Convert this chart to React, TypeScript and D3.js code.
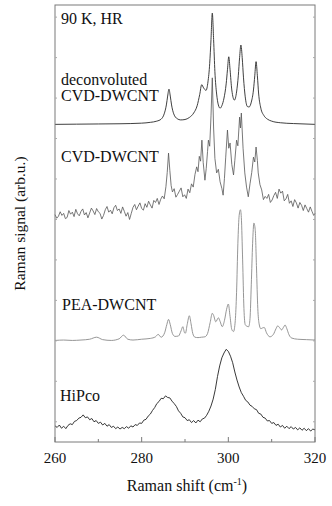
import React from "react";
import * as d3 from "d3";

// Raman shift (cm-1) vs signal (arb. u.), relative to each spectrum's own baseline
const deconvoluted: [number, number][] = [
  [260, 0], [265, 0.05], [270, 0.1], [275, 0.15], [280, 0.3], [282, 0.5], [283.5, 0.8],
  [284.5, 1.3], [285.2, 2.6], [285.7, 4.8], [286.0, 7.0], [286.3, 8.7], [286.6, 7.0],
  [286.9, 4.8], [287.4, 2.6], [288.2, 1.4], [289, 1.1], [290, 1.2], [291, 1.7], [292, 2.8],
  [292.8, 4.6], [293.4, 7.4], [293.85, 9.8], [294.3, 9.0], [294.85, 8.4], [295.3, 10.5],
  [295.7, 15], [296.0, 21], [296.3, 27.5], [296.6, 21], [296.9, 13], [297.3, 7.5],
  [297.7, 4.8], [298.1, 4.0], [298.5, 4.6], [299.0, 6.5], [299.5, 10], [299.8, 13.5],
  [300.1, 16.7], [300.4, 13.5], [300.8, 8.5], [301.4, 6.0], [301.9, 8.0], [302.3, 12],
  [302.6, 16.5], [302.9, 19.6], [303.2, 16.5], [303.5, 11.5], [303.9, 6.8], [304.4, 4.4],
  [304.8, 4.3], [305.3, 5.5], [305.8, 8.5], [306.1, 12], [306.4, 15.5], [306.7, 12],
  [307.0, 7.5], [307.5, 4.0], [308.2, 2.2], [309, 1.3], [310, 0.8], [312, 0.4], [315, 0.2],
  [320, 0],
];

const cvdDwcnt: [number, number][] = [
  [260.0, 0.6], [260.4, -0.3], [260.8, 0.2], [261.2, 1.3], [261.6, 0.4], [262.0, 0.9],
  [262.4, -0.4], [262.8, -0.1], [263.2, 1.6], [263.6, 0.7], [264.0, 1.2], [264.4, 0.1],
  [264.8, 1.9], [265.2, 0.8], [265.6, 0.3], [266.0, 1.4], [266.4, 2.0], [266.8, 0.5],
  [267.2, 1.1], [267.6, -0.2], [268.0, 1.0], [268.4, 2.2], [268.8, 1.5], [269.2, 0.6],
  [269.6, 2.1], [270.0, 1.3], [270.4, 0.9], [270.8, -0.5], [271.2, 0.4], [271.6, 1.8],
  [272.0, 2.6], [272.4, 1.2], [272.8, 1.7], [273.2, 0.8], [273.6, 2.3], [274.0, 2.9],
  [274.4, 1.6], [274.8, 2.0], [275.2, 0.9], [275.6, 2.5], [276.0, 1.4], [276.4, 0.2],
  [276.8, 1.1], [277.2, -0.6], [277.6, 0.9], [278.0, 2.4], [278.4, 3.1], [278.8, 1.8],
  [279.2, 2.7], [279.6, 3.5], [280.0, 2.1], [280.4, 1.7], [280.8, 3.3], [281.2, 2.4],
  [281.6, 3.9], [282.0, 3.0], [282.4, 2.2], [282.8, 4.1], [283.2, 3.6], [283.6, 4.6],
  [284.0, 3.1], [284.4, 4.4], [284.8, 5.2], [285.2, 4.5], [285.6, 7.5], [285.9, 11],
  [286.2, 15.8], [286.5, 11.5], [286.8, 7.8], [287.1, 6.2], [287.5, 7.0], [287.9, 4.9],
  [288.3, 5.6], [288.7, 6.4], [289.1, 7.2], [289.5, 5.0], [289.9, 5.5], [290.3, 4.6],
  [290.7, 6.9], [291.1, 6.0], [291.5, 8.2], [291.9, 7.4], [292.3, 10.5], [292.7, 12.4],
  [293.0, 11.2], [293.3, 15.0], [293.6, 13.8], [293.9, 19.0], [294.2, 13.5], [294.6, 9.1],
  [294.9, 12.0], [295.2, 16.2], [295.4, 19.0], [295.7, 17.5], [296.0, 25.0], [296.3, 34.4],
  [296.6, 22.0], [296.9, 14.5], [297.3, 10.9], [297.7, 11.8], [298.1, 8.7], [298.5, 7.1],
  [298.8, 5.4], [299.1, 9.5], [299.4, 14.8], [299.8, 21.5], [300.1, 17.0], [300.4, 18.3],
  [300.8, 13.0], [301.2, 10.4], [301.5, 14.0], [301.9, 19.0], [302.2, 17.6], [302.6, 24.7],
  [302.8, 22.0], [303.0, 25.7], [303.4, 17.0], [303.8, 10.9], [304.2, 7.4], [304.6, 5.0],
  [305.0, 8.2], [305.4, 11.0], [305.8, 14.8], [306.1, 13.6], [306.4, 17.3], [306.7, 14.0],
  [306.9, 10.9], [307.3, 8.0], [307.7, 6.7], [308.1, 4.3], [308.5, 5.1], [308.9, 4.6],
  [309.3, 5.6], [309.7, 3.6], [310.1, 4.2], [310.5, 5.3], [310.9, 6.1], [311.3, 4.6],
  [311.7, 6.9], [312.1, 5.9], [312.5, 6.4], [312.9, 4.0], [313.3, 4.5], [313.7, 5.6],
  [314.1, 3.4], [314.5, 4.0], [314.9, 2.6], [315.3, 4.3], [315.7, 3.5], [316.1, 2.2],
  [316.5, 3.6], [316.9, 2.9], [317.3, 1.6], [317.7, 3.0], [318.1, 2.1], [318.5, 1.2],
  [318.9, 2.5], [319.3, 1.4], [319.7, 0.4], [320.0, 0.9],
];

const peaDwcnt: [number, number][] = [
  [260, 0.1], [262, 0.2], [264, 0.1], [266, 0.2], [268, 0.4], [269.6, 0.9], [271, 0.3],
  [273, 0.1], [274.8, 0.5], [275.8, 1.4], [276.8, 0.4], [278, 0.2], [280, 0.4], [282, 0.6],
  [283.2, 1.0], [283.8, 1.6], [284.5, 0.9], [285.3, 2.0], [285.8, 4.0], [286.2, 5.3],
  [286.6, 4.0], [287.1, 1.8], [287.7, 1.1], [288.5, 1.2], [289.1, 2.5], [289.5, 3.5],
  [289.9, 2.0], [290.1, 1.9], [290.5, 4.0], [291.0, 6.2], [291.4, 4.2], [291.8, 1.8],
  [292.3, 0.9], [293, 0.8], [293.8, 0.9], [294.6, 1.0], [295.2, 1.8], [295.8, 4.5],
  [296.3, 6.8], [296.6, 6.3], [297.1, 4.7], [297.7, 5.7], [298.1, 4.8], [298.6, 3.5],
  [299.1, 5.0], [299.6, 7.8], [300.0, 9.1], [300.4, 6.0], [300.8, 2.8], [301.2, 2.3],
  [301.6, 5], [301.9, 12], [302.2, 24], [302.5, 31], [302.8, 32.4], [303.0, 30.5],
  [303.3, 20], [303.6, 8], [303.9, 4.0], [304.3, 3.6], [304.7, 3.5], [305.0, 5.5],
  [305.3, 14], [305.6, 24], [305.9, 29.1], [306.2, 27.5], [306.5, 18], [306.8, 8],
  [307.1, 4.2], [307.5, 3.0], [307.9, 3.2], [308.3, 3.3], [308.8, 2.0], [309.6, 1.0],
  [310.4, 1.6], [311.0, 3.0], [311.4, 3.7], [311.8, 3.3], [312.3, 2.7], [312.7, 3.3],
  [313.1, 3.9], [313.5, 3.0], [314.0, 1.5], [314.6, 0.7], [316, 0.4], [318, 0.3], [320, 0.2],
];

const hipco: [number, number][] = [
  [260.0, 1.0], [260.5, 0.6], [261.0, 1.2], [261.5, 0.4], [262.0, 0.9], [262.5, 0.3],
  [263.0, 1.1], [263.5, 1.5], [264.0, 1.3], [264.5, 2.1], [265.0, 2.3], [265.5, 2.9],
  [266.0, 3.1], [266.5, 3.7], [267.0, 3.0], [267.5, 3.2], [268.0, 2.5], [268.5, 2.8],
  [269.0, 2.0], [269.5, 2.3], [270.0, 1.6], [270.5, 1.9], [271.0, 1.2], [271.5, 1.6],
  [272.0, 0.9], [272.5, 1.3], [273.0, 0.6], [273.5, 0.9], [274.0, 0.3], [274.5, 0.7],
  [275.0, 0.2], [275.5, 0.6], [276.0, 0.3], [276.5, 0.8], [277.0, 0.4], [277.5, 1.0],
  [278.0, 0.7], [278.5, 1.3], [279.0, 1.1], [279.5, 1.7], [280.0, 1.6], [280.5, 2.4],
  [281.0, 2.6], [281.5, 3.4], [282.0, 3.9], [282.5, 4.8], [283.0, 5.5], [283.5, 6.5],
  [284.0, 7.0], [284.5, 7.8], [285.0, 7.7], [285.5, 8.4], [286.0, 8.0], [286.5, 7.9],
  [287.0, 7.1], [287.5, 6.5], [288.0, 5.8], [288.5, 4.7], [289.0, 4.1], [289.5, 3.2],
  [290.0, 3.0], [290.5, 2.3], [291.0, 2.5], [291.5, 1.8], [292.0, 2.3], [292.5, 1.7],
  [293.0, 2.4], [293.5, 2.0], [294.0, 2.7], [294.5, 2.9], [295.0, 3.6], [295.5, 4.6],
  [296.0, 5.9], [296.5, 7.6], [297.0, 10.0], [297.5, 13.2], [298.0, 15.8], [298.5, 17.8],
  [299.0, 19.0], [299.5, 19.9], [300.0, 19.4], [300.5, 18.2], [301.0, 16.6], [301.5, 14.3],
  [302.0, 12.3], [302.5, 10.6], [303.0, 9.2], [303.5, 8.3], [304.0, 7.3], [304.5, 6.9],
  [305.0, 6.1], [305.5, 5.8], [306.0, 5.2], [306.5, 5.0], [307.0, 4.1], [307.5, 3.9],
  [308.0, 3.1], [308.5, 2.9], [309.0, 2.2], [309.5, 2.3], [310.0, 1.6], [310.5, 1.8],
  [311.0, 1.1], [311.5, 1.4], [312.0, 0.7], [312.5, 1.1], [313.0, 0.4], [313.5, 0.9],
  [314.0, 0.3], [314.5, 0.8], [315.0, 0.2], [315.5, 0.6], [316.0, 0.0], [316.5, 0.5],
  [317.0, -0.1], [317.5, 0.4], [318.0, -0.2], [318.5, 0.3], [319.0, -0.3], [319.5, 0.2],
  [320.0, 0.0],
];

const seriesNames = ["deconvoluted", "CVD-DWCNT", "PEA-DWCNT", "HiPco"];
const seriesOffsets = [73.5, 50.6, 20.0, -2.0];
const seriesColors = ["#2a2a2a", "#555", "#8a8a8a", "#222"];
const xTicks = [260, 280, 300, 320];
const xMinorTicks = [270, 290, 310];
const yTicks = [0, 10, 20, 30, 40, 50, 60, 70, 80, 90, 100];

const W = 332;
const H = 506;
const margin = { top: 5, right: 17, bottom: 64, left: 55 };
const font = "'Liberation Serif', 'Times New Roman', serif";

const App = () => {
  const x = d3.scaleLinear().domain([260, 320]).range([margin.left, W - margin.right]);
  const y = d3.scaleLinear().domain([-5, 103]).range([H - margin.bottom, margin.top]);

  const allSeries = [deconvoluted, cvdDwcnt, peaDwcnt, hipco];
  const curves = [d3.curveMonotoneX, d3.curveLinear, d3.curveMonotoneX, d3.curveLinear];
  const widths = [0.9, 0.8, 0.9, 0.9];

  const paths = allSeries.map((s, i) =>
    d3
      .line<[number, number]>()
      .x((d) => x(d[0]))
      .y((d) => y(d[1] + seriesOffsets[i]))
      .curve(curves[i])(s)
  );

  const x0 = margin.left;
  const x1 = W - margin.right;
  const y0 = H - margin.bottom;
  const y1 = margin.top;

  return (
    <svg
      width={W}
      height={H}
      style={{ position: "absolute", left: 0, top: 0, background: "#fff" }}
      fontFamily={font}
    >
      {/* spectra, bottom one first */}
      {paths
        .map((p, i) => (
          <path key={seriesNames[i]} d={p || ""} fill="none" stroke={seriesColors[i]} strokeWidth={widths[i]} />
        ))
        .reverse()}

      {/* frame */}
      <rect x={x0} y={y1} width={x1 - x0} height={y0 - y1} fill="none" stroke="#7a7a7a" strokeWidth={1} />

      {xTicks.map((t) => (
        <line key={"xt" + t} x1={x(t)} x2={x(t)} y1={y0} y2={y0 - 5} stroke="#7a7a7a" />
      ))}
      {xMinorTicks.map((t) => (
        <line key={"xm" + t} x1={x(t)} x2={x(t)} y1={y0} y2={y0 - 3} stroke="#7a7a7a" />
      ))}
      {yTicks.map((t) => (
        <g key={"yt" + t}>
          <line x1={x0} x2={x0 + 2} y1={y(t)} y2={y(t)} stroke="#aaa" />
          <line x1={x1} x2={x1 - 2} y1={y(t)} y2={y(t)} stroke="#aaa" />
        </g>
      ))}

      {xTicks.map((t) => (
        <text key={"xl" + t} x={x(t)} y={463} textAnchor="middle" fontSize={15} fill="#111">
          {t}
        </text>
      ))}

      <text x={187} y={491} textAnchor="middle" fontSize={16} fill="#111">
        Raman shift (cm
        <tspan dy={-6} fontSize={10}>-1</tspan>
        <tspan dy={6}>)</tspan>
      </text>
      <text
        transform={`translate(25,${(y0 + y1) / 2}) rotate(-90)`}
        textAnchor="middle"
        fontSize={15.5}
        fill="#111"
      >
        Raman signal (arb.u.)
      </text>

      <text x={61} y={24} fontSize={16} fill="#111">90 K, HR</text>
      <text x={61} y={85} fontSize={16} fill="#111">deconvoluted</text>
      <text x={61} y={101} fontSize={16} fill="#111">CVD-DWCNT</text>
      <text x={61} y={162} fontSize={16} fill="#111">CVD-DWCNT</text>
      <text x={62} y={310} fontSize={16} fill="#111">PEA-DWCNT</text>
      <text x={60} y={401} fontSize={16} fill="#111">HiPco</text>
    </svg>
  );
};

export default App;
